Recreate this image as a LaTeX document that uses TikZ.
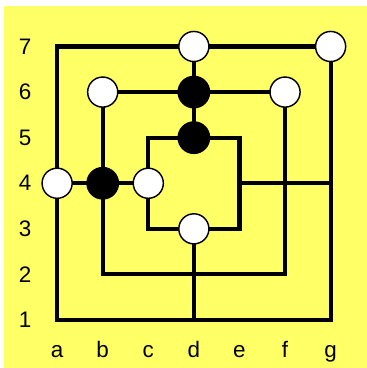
\documentclass[tikz,border=0pt]{standalone}
\usepackage{fontspec}
\setmainfont{Liberation Sans}
\definecolor{boardyellow}{RGB}{255,255,102}
\begin{document}
\begin{tikzpicture}[
    line/.style={line width=2.6pt},
    wpiece/.style={circle, draw=black, line width=0.9pt, fill=white, minimum size=0.66cm, inner sep=0pt},
    bpiece/.style={circle, fill=black, minimum size=0.72cm, inner sep=0pt},
    lbl/.style={font=\fontsize{14}{14}\selectfont}]
        \useasboundingbox (-0.253,-0.053) rectangle (7.79,8.02);
        % background
        \fill[boardyellow] (-0.164,-0.053) rectangle (7.79,7.89);
        % points of the board
        \foreach \c [count=\i] in {a,b,c,d,e,f,g}
            \foreach \r in {1,...,7}
                \coordinate (\c\r) at (\i,\r);
        % squares
        \draw[line] (a1) rectangle (g7);
        \draw[line] (b2) rectangle (f6);
        \draw[line] (c3) rectangle (e5);
        % cross lines
        \draw[line] (d7) -- (d5) (a4) -- (c4) (d3) -- (d1) (e4) -- (g4);
        % pieces
        \foreach \p in {d7,g7,b6,f6,a4,c4,d3}
            \node[wpiece] (w\p) at (\p) {};
        \foreach \p in {d6,d5,b4}
            \node[bpiece] (b\p) at (\p) {};
        % labels
        \foreach \r in {1,...,7}
            \node[lbl] (row\r) at (0.3,\r) {\r};
        \foreach \c [count=\i] in {a,b,c,d,e,f,g}
            \node[lbl, anchor=base] (col\c) at (\i,0.17) {\c};
    \end{tikzpicture}
\end{document}
